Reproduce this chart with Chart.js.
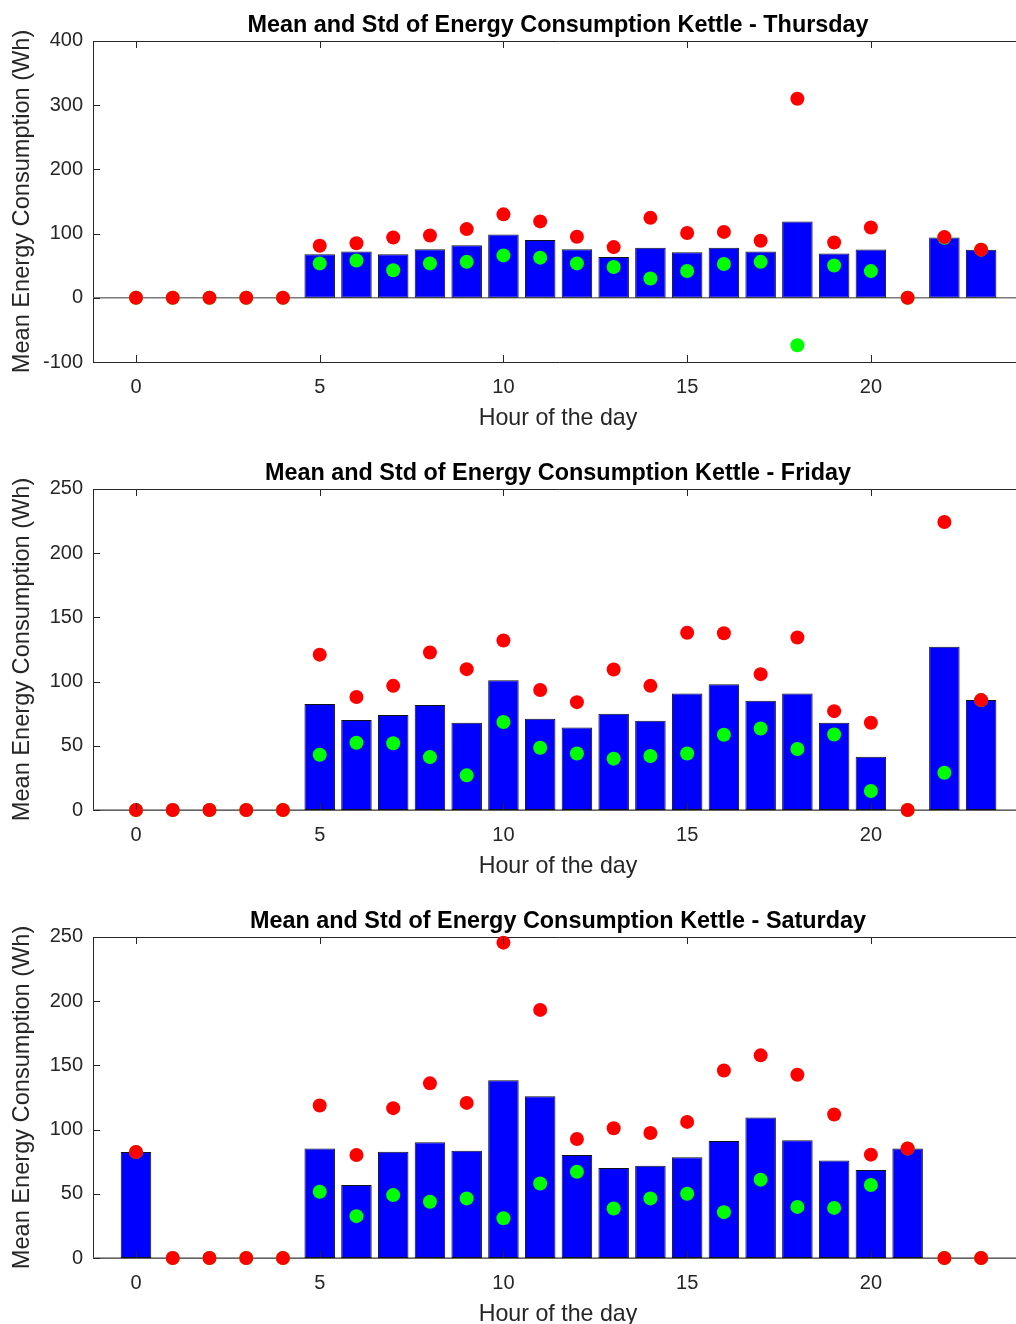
<!DOCTYPE html>
<html>
<head>
<meta charset="utf-8">
<script src="https://cdn.jsdelivr.net/npm/chart.js@4.4.1/dist/chart.umd.min.js"></script>
<style>
  html, body { margin: 0; padding: 0; background: #fff; overflow: hidden; width: 1016px; height: 1324px; }
  .panel { position: absolute; left: 0; width: 1024px; height: 448px; }
  canvas { display: block; }
</style>
</head>
<body>
<div class="panel" style="top:0px"><canvas id="thu" width="1024" height="448"></canvas></div>
<div class="panel" style="top:448px"><canvas id="fri" width="1024" height="448"></canvas></div>
<div class="panel" style="top:896px"><canvas id="sat" width="1024" height="448"></canvas></div>
<script>
// Hour of the day (x categories)
const hours = [0, 1, 2, 3, 4, 5, 6, 7, 8, 9, 10, 11, 12, 13, 14, 15, 16, 17, 18, 19, 20, 21, 22, 23];
const xTicks = [0, 5, 10, 15, 20];

// Thursday: mean, mean + std, mean - std (Wh)
const thuMean  = [0, 0, 0, 0, 0, 68, 72, 68, 75.5, 82, 98.5, 90, 75.5, 63.5, 78, 71, 78, 72, 119, 69, 75.2, 0, 94, 75];
const thuUpper = [0, 0, 0, 0, 0, 81, 85, 94, 97, 107, 130, 119, 95, 79, 124.5, 101, 102.6, 88.8, 310, 86.1, 109.5, 0, 94.5, 75];
const thuLower = [0, 0, 0, 0, 0, 53.6, 58, 43, 53.6, 56, 66, 62.5, 53.6, 48, 30, 41.7, 52.6, 56, -74, 50.3, 41.6, 0, 93.5, 75];
const thuYTicks = [-100, 0, 100, 200, 300, 400];

// Friday
const friMean  = [0, 0, 0, 0, 0, 82.5, 70, 74, 81.7, 68, 101, 71, 64.3, 75, 69.5, 90.8, 98, 85, 90.8, 68, 41.5, 0, 127.2, 85.6];
const friUpper = [0, 0, 0, 0, 0, 121, 88, 96.7, 122.7, 109.7, 132, 93.4, 84, 109.4, 96.7, 138, 137.7, 105.8, 134.3, 77, 68, 0, 224.3, 85.6];
const friLower = [0, 0, 0, 0, 0, 43, 52.4, 52, 41.2, 27, 68.5, 48.5, 44, 40, 42, 44, 58.6, 63.5, 47.5, 58.8, 14.8, 0, 29, 85.6];
const friYTicks = [0, 50, 100, 150, 200, 250];

// Saturday
const satMean  = [82.5, 0, 0, 0, 0, 85.2, 56.8, 82.8, 90.1, 83.6, 138.5, 126, 80.2, 70, 71.9, 78.4, 91.1, 109.4, 91.7, 76, 68.5, 85.3, 0, 0];
const satUpper = [82.5, 0, 0, 0, 0, 118.8, 80.2, 116.7, 136, 120.8, 245.6, 193.2, 92.7, 101, 97.4, 106, 146, 157.8, 142.7, 111.7, 80.5, 85.3, 0, 0];
const satLower = [82.5, 0, 0, 0, 0, 51.6, 32.6, 49, 43.75, 46.4, 31, 58, 67.2, 38.5, 46.4, 50, 35.7, 61, 39.8, 39, 56.8, 85.3, 0, 0];
const satYTicks = [0, 50, 100, 150, 200, 250];

const FONT = '"Liberation Sans", Arial, Helvetica, sans-serif';
const AXIS_COLOR = '#262626';

// Axes box, zero baseline and inward tick marks
const axesPlugin = {
  id: 'axesBox',
  beforeDatasetsDraw(chart) {
    const { ctx, chartArea: a, scales: { y } } = chart;
    ctx.save();
    ctx.strokeStyle = AXIS_COLOR;
    ctx.lineWidth = 1;
    ctx.beginPath();
    ctx.moveTo(Math.round(a.left) + 0.5, Math.round(a.bottom) + 0.5);
    ctx.lineTo(Math.round(a.left) + 0.5, Math.round(a.top) + 0.5);
    ctx.lineTo(a.right + 10, Math.round(a.top) + 0.5);
    ctx.moveTo(Math.round(a.left) + 0.5, Math.round(a.bottom) + 0.5);
    ctx.lineTo(a.right + 10, Math.round(a.bottom) + 0.5);
    ctx.stroke();
    // bar baseline at zero
    const y0 = y.getPixelForValue(0);
    ctx.strokeStyle = '#7a7a7a';
    ctx.lineWidth = 1.6;
    ctx.beginPath();
    ctx.moveTo(a.left, y0);
    ctx.lineTo(a.right + 10, y0);
    ctx.stroke();
    ctx.restore();
  },
  afterDatasetsDraw(chart) {
    const { ctx, chartArea: a, scales: { x, y } } = chart;
    const len = 7;
    ctx.save();
    ctx.strokeStyle = AXIS_COLOR;
    ctx.lineWidth = 1;
    ctx.beginPath();
    x.ticks.forEach(t => {
      const px = Math.round(x.getPixelForValue(t.value)) + 0.5;
      ctx.moveTo(px, a.bottom);
      ctx.lineTo(px, a.bottom - len);
      ctx.moveTo(px, a.top);
      ctx.lineTo(px, a.top + len);
    });
    y.ticks.forEach(t => {
      const py = Math.round(y.getPixelForValue(t.value)) + 0.5;
      ctx.moveTo(a.left, py);
      ctx.lineTo(a.left + len, py);
    });
    ctx.stroke();
    ctx.restore();
  }
};

function drawPanel(id, day, mean, upper, lower, yTicks) {
  const yMin = yTicks[0];
  const yMax = yTicks[yTicks.length - 1];
  new Chart(document.getElementById(id), {
    data: {
      datasets: [
        {
          type: 'scatter',
          label: 'mean + std',
          data: hours.map((h, i) => ({ x: h, y: upper[i] })),
          backgroundColor: '#ff0000',
          borderWidth: 0,
          pointRadius: 7,
          pointHoverRadius: 7,
          clip: false,
          order: 1
        },
        {
          type: 'scatter',
          label: 'mean - std',
          data: hours.map((h, i) => ({ x: h, y: lower[i] })),
          backgroundColor: '#00ff00',
          borderWidth: 0,
          pointRadius: 7,
          pointHoverRadius: 7,
          clip: false,
          order: 2
        },
        {
          type: 'bar',
          label: 'mean',
          data: hours.map((h, i) => ({ x: h, y: mean[i] === 0 ? null : mean[i] })),
          backgroundColor: '#0000ff',
          borderColor: '#111111',
          borderWidth: 1,
          borderSkipped: false,
          barPercentage: 0.83,
          categoryPercentage: 1.0,
          clip: false,
          order: 3
        }
      ]
    },
    options: {
      responsive: false,
      animation: false,
      devicePixelRatio: 1,
      layout: { autoPadding: false, padding: { left: 0, right: 1, top: 0, bottom: 0 } },
      plugins: {
        legend: { display: false },
        tooltip: { enabled: false },
        title: {
          display: true,
          fullSize: false,
          text: 'Mean and Std of Energy Consumption Kettle - ' + day,
          color: '#000000',
          font: { family: FONT, size: 23.4, weight: 'bold', lineHeight: 1.2 },
          padding: { top: 12, bottom: 0.9 }
        }
      },
      scales: {
        x: {
          type: 'linear',
          min: -1.17,
          max: 24.14,
          offset: false,
          afterBuildTicks: s => { s.ticks = xTicks.map(v => ({ value: v })); },
          afterFit: s => { s.height = 86; },
          grid: { display: false, drawTicks: false },
          border: { display: false },
          ticks: {
            color: AXIS_COLOR,
            padding: 13,
            maxRotation: 0,
            autoSkip: false,
            font: { family: FONT, size: 20 },
            callback: v => String(v)
          },
          title: {
            display: true,
            text: 'Hour of the day',
            color: AXIS_COLOR,
            font: { family: FONT, size: 23.2, lineHeight: 1.2 },
            padding: { top: 0, bottom: 15.1 }
          }
        },
        y: {
          type: 'linear',
          min: yMin,
          max: yMax,
          afterBuildTicks: s => { s.ticks = yTicks.map(v => ({ value: v })); },
          afterFit: s => { s.width = 93; },
          grid: { display: false, drawTicks: false },
          border: { display: false },
          ticks: {
            color: AXIS_COLOR,
            padding: 10,
            autoSkip: false,
            font: { family: FONT, size: 20 },
            callback: v => String(v)
          },
          title: {
            display: true,
            text: 'Mean Energy Consumption (Wh)',
            color: AXIS_COLOR,
            font: { family: FONT, size: 23.6, lineHeight: 1.2 },
            padding: { top: 8, bottom: 0 }
          }
        }
      }
    },
    plugins: [axesPlugin]
  });
}

drawPanel('thu', 'Thursday', thuMean, thuUpper, thuLower, thuYTicks);
drawPanel('fri', 'Friday', friMean, friUpper, friLower, friYTicks);
drawPanel('sat', 'Saturday', satMean, satUpper, satLower, satYTicks);
</script>
</body>
</html>
